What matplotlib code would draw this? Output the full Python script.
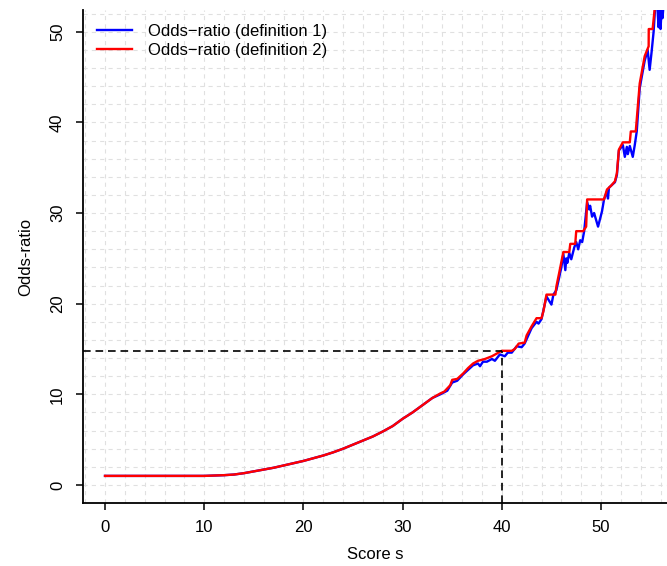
import matplotlib
matplotlib.use("Agg")
import matplotlib.pyplot as plt
from matplotlib.ticker import MultipleLocator

plt.rcParams['font.family'] = ['Liberation Sans', 'DejaVu Sans']
plt.rcParams['lines.scale_dashes'] = False

# Odds-ratio, definition 2 (red)
red_x = [0, 5, 10, 12, 13, 14, 15, 16, 17, 18, 19, 20, 21, 22, 23, 24, 25, 26, 27, 28,
         29, 30, 31, 32, 33, 33.8, 34.2, 34.8, 35.0, 35.5, 36.1, 36.6, 37.1, 37.6, 38.3,
         39.0, 39.5, 39.8, 40.0, 41.0, 41.3, 41.7, 42.3, 42.5, 43.0, 43.5, 44.0, 44.2,
         44.5, 45.4, 45.5, 45.8, 46.2, 46.8, 46.9, 47.4, 47.5, 48.2, 48.5, 48.6, 50.3,
         50.6, 51.0, 51.4, 51.6, 51.8, 52.2, 52.9, 53.0, 53.5, 53.9, 54.4, 54.8, 54.81,
         55.2, 55.4, 55.8]
red_y = [1.0, 1.0, 1.0, 1.08, 1.15, 1.3, 1.5, 1.7, 1.9, 2.15, 2.4, 2.65, 2.95, 3.25, 3.6,
         4.0, 4.45, 4.9, 5.35, 5.9, 6.5, 7.3, 8.0, 8.8, 9.6, 10.1, 10.3, 11.0, 11.6, 11.7,
         12.3, 12.9, 13.4, 13.7, 13.9, 14.2, 14.5, 14.7, 14.8, 14.8, 15.0, 15.6, 15.7,
         16.5, 17.5, 18.4, 18.4, 19.2, 21.0, 21.0, 21.9, 23.5, 25.7, 25.7, 26.6, 26.6,
         28.0, 28.0, 28.5, 31.5, 31.5, 32.6, 33.0, 33.5, 34.4, 37.0, 37.8, 37.8, 39.0,
         39.0, 44.3, 47.3, 48.4, 50.3, 50.3, 52.4, 56.0]

# Odds-ratio, definition 1 (blue)
blue_x = [0, 5, 10, 12, 13, 14, 15, 16, 17, 18, 19, 20, 21, 22, 23, 24, 25, 26, 27, 28,
          29, 30, 31, 32, 33, 33.8, 34.5, 35.0, 35.5, 36.1, 36.6, 37.1, 37.6, 37.8, 38.1,
          38.5, 39.0, 39.3, 39.8, 40.3, 40.6, 41.0, 41.5, 42.0, 42.3, 43.0, 43.5, 43.7,
          44.0, 44.5, 45.0, 45.2, 45.5, 46.0, 46.2, 46.4, 46.5, 46.6, 46.8, 47.0, 47.3,
          47.5, 47.7, 47.9, 48.1, 48.3, 48.6, 48.8, 48.9, 49.1, 49.3, 49.7, 50.1, 50.3,
          50.6, 50.7, 50.8, 51.4, 51.6, 51.8, 52.2, 52.4, 52.6, 52.7, 52.9, 53.2, 53.4,
          53.6, 53.9, 54.4, 54.7, 54.9, 55.1, 55.3, 55.5, 55.7, 55.8, 55.9, 56.0, 56.1,
          56.2, 56.3]
blue_y = [1.0, 1.0, 1.0, 1.08, 1.15, 1.3, 1.5, 1.7, 1.9, 2.15, 2.4, 2.65, 2.95, 3.25, 3.6,
          4.0, 4.45, 4.9, 5.35, 5.9, 6.5, 7.3, 8.0, 8.8, 9.6, 10.0, 10.4, 11.3, 11.5, 12.2,
          12.7, 13.2, 13.4, 13.1, 13.6, 13.6, 13.9, 13.7, 14.4, 14.2, 14.6, 14.6, 15.3,
          15.2, 15.6, 17.3, 18.0, 17.8, 18.3, 20.8, 19.9, 21.0, 21.5, 24.0, 25.5, 23.7,
          25.0, 24.5, 25.6, 24.9, 26.2, 26.8, 26.0, 27.0, 26.8, 28.0, 31.2, 30.4, 30.8,
          29.6, 30.0, 28.5, 30.2, 31.5, 32.4, 31.6, 32.8, 33.4, 34.2, 36.9, 37.5, 36.2,
          37.3, 36.5, 37.4, 36.2, 37.5, 39.0, 43.8, 46.8, 48.0, 45.8, 47.8, 50.0, 53.5,
          52.4, 50.5, 52.3, 50.3, 52.4, 51.5, 53.0]

x_ticks = [0, 10, 20, 30, 40, 50]
y_ticks = [0, 10, 20, 30, 40, 50]
ref_score = 40
ref_odds = 14.8

W, H = 667, 566
fig = plt.figure(figsize=(W / 100, H / 100), dpi=100)
ax = fig.add_axes([83 / W, (H - 503) / H, (W - 83) / W, (503 - 10) / H])

ax.set_xlim(-2.22, 56.65)
ax.set_ylim(-1.99, 52.4)

ax.xaxis.set_minor_locator(MultipleLocator(2))
ax.yaxis.set_minor_locator(MultipleLocator(2))
ax.grid(which='both', color='#e0e0e0', linestyle=(0, (3, 3)), linewidth=0.8)
ax.set_axisbelow(True)

ax.plot(blue_x, blue_y, color='#0000ff', lw=1.7, label='Odds\u2212ratio (definition 1)',
        zorder=3)
ax.plot(red_x, red_y, color='#ff0000', lw=1.7, label='Odds\u2212ratio (definition 2)',
        zorder=4)

ax.plot([-2.22, ref_score], [ref_odds, ref_odds], color='black', lw=1.2,
        linestyle=(0, (5.5, 3.5)), zorder=5)
ax.plot([ref_score, ref_score], [-1.99, ref_odds], color='black', lw=1.2,
        linestyle=(0, (5.5, 3.5)), zorder=5)

ax.set_xticks(x_ticks)
ax.set_yticks(y_ticks)
ax.set_yticklabels([str(v) for v in y_ticks], rotation=90, va='center')
ax.tick_params(which='major', direction='out', length=5, width=1.1,
               labelsize=12, colors='black')
ax.tick_params(axis='x', pad=7)
ax.tick_params(axis='y', pad=8)
ax.tick_params(which='minor', length=0)

for s in ['top', 'right']:
    ax.spines[s].set_visible(False)
for s in ['left', 'bottom']:
    ax.spines[s].set_linewidth(1.3)

ax.set_xlabel('Score s', fontsize=12, labelpad=9)
ax.set_ylabel('Odds-ratio', fontsize=12, labelpad=12)

ax.legend(loc='upper left', frameon=False, fontsize=12, handlelength=2.1,
          handletextpad=0.95, borderpad=0, borderaxespad=0.85, labelspacing=0.25)

fig.savefig('out.png', dpi=100)
